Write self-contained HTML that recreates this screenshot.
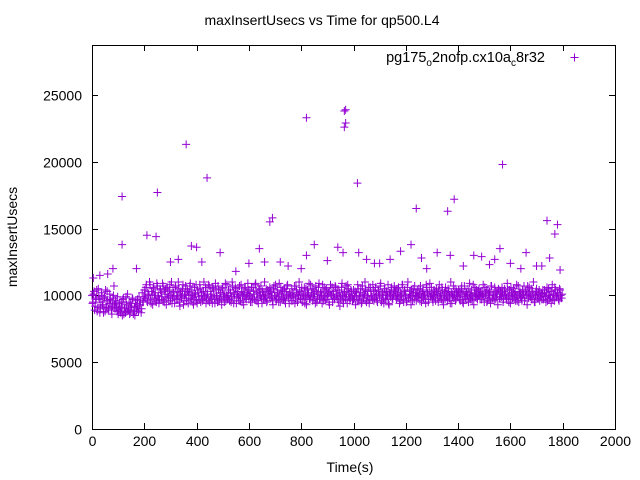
<!DOCTYPE html>
<html><head><meta charset="utf-8"><style>
body{margin:0;background:#fff}
svg{display:block;font-family:"Liberation Sans",sans-serif}
</style></head><body>
<svg id="chart" width="640" height="480" viewBox="0 0 640 480">
<text x="322" y="25" text-anchor="middle" font-size="14">maxInsertUsecs vs Time for qp500.L4</text>
<text transform="translate(17,237) rotate(-90)" text-anchor="middle" font-size="14">maxInsertUsecs</text>
<text x="350" y="472" text-anchor="middle" font-size="14">Time(s)</text>
<g id="axes"></g>
<g id="points"></g>
<g>
<text x="545" y="62" text-anchor="end" font-size="14.5">pg175<tspan font-size="10" dy="4">o</tspan><tspan dy="-4">2nofp.cx10a</tspan><tspan font-size="10" dy="4">c</tspan><tspan dy="-4">8r32</tspan></text>
<path d="M570.5 57.5h8M574.5 53.5v8" stroke="#9400d3" stroke-width="1"/>
</g>
</svg>
<script>
const xTicks=[0,200,400,600,800,1000,1200,1400,1600,1800,2000];
const yTicks=[0,5000,10000,15000,20000,25000];
const bandStart=0;
const bandStep=4;
const bandHundreds=[100,95,103,92,98,88,105,97,90,102,93,87,99,104,91,96,89,101,94,86,98,107,90,95,88,
86,92,88,95,85,98,90,87,93,101,89,86,94,91,97,88,85,96,92,90,99,93,87,102,95,
104,98,108,95,101,110,97,103,93,106,100,96,109,99,94,105,102,97,107,95,
101,93,106,99,104,96,110,98,102,94,107,100,97,105,92,103,99,108,96,101,
98,105,94,102,109,97,100,93,106,101,96,104,99,108,95,102,97,110,100,94,
103,96,107,99,101,94,105,98,109,100,95,104,97,102,93,106,99,101,96,108,
100,97,104,95,110,102,98,106,94,101,99,107,96,103,100,93,105,98,102,109,
97,104,99,95,106,101,108,96,102,94,105,100,98,103,97,110,99,95,104,101,
106,98,102,93,107,100,96,104,99,109,95,101,103,97,105,94,100,108,98,102,
99,105,96,101,94,107,102,98,110,97,103,95,100,106,99,93,104,101,97,108,
102,96,104,99,107,95,101,109,98,103,94,100,106,97,105,99,102,93,108,100,
95,103,98,106,101,97,104,92,100,109,96,102,99,107,94,105,101,98,103,96,
104,99,93,102,108,97,100,105,95,101,98,110,96,103,99,94,106,100,97,104,
98,106,101,95,103,99,109,96,102,94,105,100,97,108,93,101,104,98,100,107,
103,97,100,106,94,102,99,108,95,104,101,96,110,98,103,93,100,105,97,102,
96,104,99,101,107,95,103,98,100,94,106,102,97,109,99,101,95,104,98,103,
101,95,108,100,97,104,93,102,106,99,96,103,100,110,94,101,98,105,97,102,
99,103,96,105,101,94,107,98,102,100,95,109,97,104,99,93,106,101,98,103,
105,97,102,99,108,95,100,104,96,101,103,94,107,98,100,106,97,102,93,104,
98,101,106,95,103,100,97,109,99,104,94,102,98,105,101,96,108,100,95,103,
102,96,100,107,98,104,93,101,106,99,97,103,110,95,100,105,98,102,96,101,
97,104,99,102,95,106,100,98,103,94,108,101,96,104,99,102,97,105,100,98];
const band2Start=2;
const band2Step=4;
const band2Hundreds=[94,101,89,97,104,91,99,87,95,100,92,98,88,96,103,90,94,97,89,92,100,93,96,91,99,
89,94,87,91,97,86,93,99,88,90,95,87,92,98,86,91,94,89,97,88,93,96,90,95,99,
99,106,96,103,100,108,94,101,105,98,102,95,107,100,97,104,99,109,96,103,
105,98,101,96,108,100,94,103,99,106,97,102,110,95,101,98,104,93,100,107,
96,103,100,107,98,104,95,101,99,108,94,102,97,105,100,96,103,99,106,98,
101,108,95,103,97,106,100,94,104,99,107,96,102,98,105,101,95,109,100,97,
104,96,102,99,107,94,101,105,98,103,96,100,108,95,102,99,106,97,101,104,
100,95,106,98,103,97,109,101,96,104,99,107,94,102,100,98,105,96,103,99,
103,99,96,105,100,108,97,102,95,101,106,98,104,99,96,103,107,100,94,101,
96,102,99,107,98,104,95,100,103,97,106,101,99,94,105,98,102,109,97,100,
105,99,101,94,103,98,106,97,102,100,108,96,99,104,97,101,95,103,100,106,
101,97,107,99,104,95,102,98,106,100,94,103,97,101,108,99,96,104,100,97,
97,103,100,96,105,99,102,94,107,98,101,104,95,100,106,97,103,99,108,96,
103,99,96,104,100,107,95,101,98,105,97,103,100,94,102,99,106,97,101,104,
99,105,98,102,96,101,108,97,103,100,95,106,98,101,99,104,96,102,107,100,
102,98,105,96,101,99,104,100,97,108,101,95,103,99,106,97,100,102,96,105,
98,104,99,101,106,96,100,97,103,101,105,98,94,102,99,107,101,96,103,100,
104,97,101,107,95,102,99,103,97,105,98,101,100,96,108,102,99,104,97,100,
100,103,97,101,99,106,102,95,104,98,100,107,97,102,96,103,99,101,105,98,
103,99,102,97,105,101,98,104,95,100,106,99,102,97,103,100,96,107,101,99,
98,104,101,96,103,100,107,98,102,99,105,97,101,95,103,100,98,104,99,102,
101,97,104,99,102,96,105,100,98,103,97,101,106,99,100,102,96,104,98,101];
const outlierTimes=[5,30,60,80,115,115,170,210,245,250,300,330,360,380,400,420,440,490,550,600,640,660,680,690,720,750,800,820,820,850,900,940,960,965,965,970,970,1015,1020,1050,1080,1100,1140,1180,1220,1240,1260,1280,1320,1360,1370,1385,1420,1460,1490,1520,1540,1560,1570,1600,1640,1660,1700,1720,1740,1750,1770,1780,1790];
const outlierValues=[11300,11500,11600,12000,17400,13800,12000,14500,14400,17700,12500,12700,21300,13700,13600,12500,18800,13200,11800,12400,13500,12500,15500,15800,12500,12200,12000,23300,13000,13800,12600,13600,13200,22600,23800,23900,22900,18400,13200,12700,12400,12400,12700,13300,13800,16500,12800,12000,13200,16300,13000,17200,12200,13000,12900,12300,12700,13500,19800,12400,12000,13200,12200,12200,15600,12800,14600,15300,11900];
const L=92,R=615,T=45,B=429;
const xs=t=>L+t*(R-L)/2000;
const ys=v=>B-v*0.01336;
const NS="http://www.w3.org/2000/svg";
const axes=document.getElementById('axes');
function mk(tag,attrs,parent){const e=document.createElementNS(NS,tag);for(const k in attrs)e.setAttribute(k,attrs[k]);parent.appendChild(e);return e;}
const frame=mk('rect',{x:L+0.5,y:T+0.5,width:R-L,height:B-T,fill:'none',stroke:'#000','stroke-width':1},axes);


xTicks.forEach(t=>{const x=Math.round(xs(t))+0.5;
const tk=mk('path',{d:`M${x} ${B}v-6M${x} ${T}v6`,stroke:'#000'},axes);


const lb=mk('text',{x:x,y:B+17,'text-anchor':'middle','font-size':14},axes);lb.textContent=t;

});
yTicks.forEach(v=>{const y=Math.round(ys(v))+0.5;
const tk=mk('path',{d:`M${L} ${y}h6M${R} ${y}h-6`,stroke:'#000'},axes);


const lb=mk('text',{x:L-10,y:y+5,'text-anchor':'end','font-size':14},axes);lb.textContent=v;

});
const pts=document.getElementById('points');
let d='';
const plus=(x,y)=>`M${x-4} ${y}h8M${x} ${y-4}v8`;
bandHundreds.forEach((h,i)=>{d+=plus(xs(bandStart+i*bandStep),ys(h*100));});
band2Hundreds.forEach((h,i)=>{d+=plus(xs(band2Start+i*band2Step),ys(h*100));});
outlierTimes.forEach((t,i)=>{d+=plus(xs(t),ys(outlierValues[i]));});
const p=mk('path',{d:d,stroke:'#9400d3','stroke-width':1,fill:'none'},pts);


</script>
</body></html>
